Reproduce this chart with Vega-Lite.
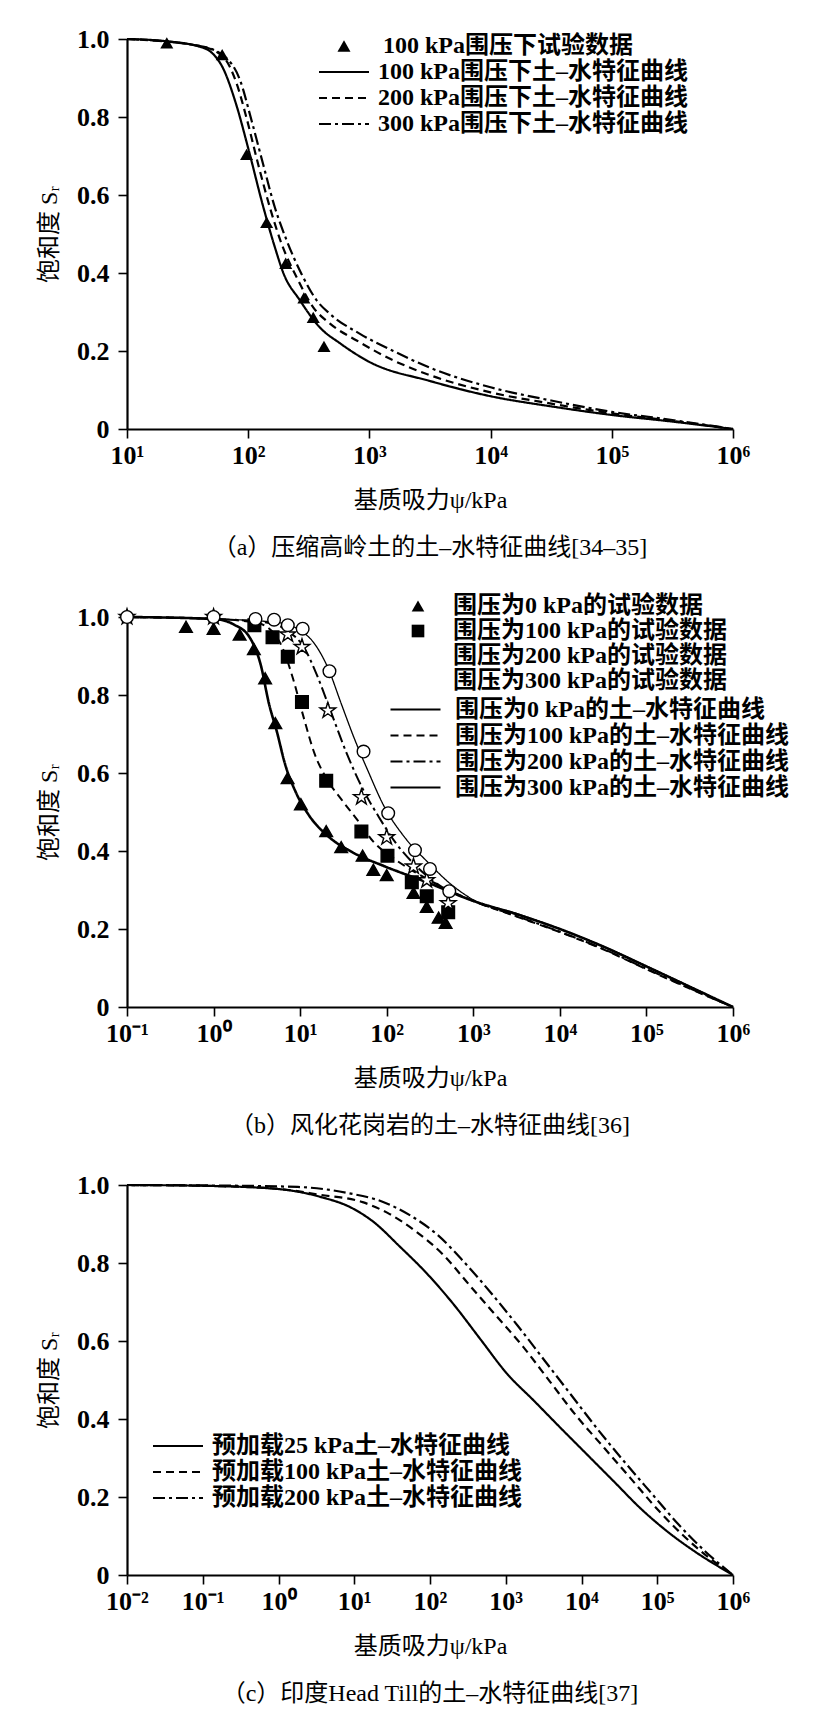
{
  "$schema": "https://vega.github.io/schema/vega-lite/v6.json",
  "background": "white",
  "padding": {"left": 37, "top": 26, "right": 5, "bottom": 5},
  "spacing": 34,
  "datasets": {
    "a_line": [
      {"s": "100 kPa围压下土–水特征曲线", "x": 10, "y": 1.0},
      {"s": "100 kPa围压下土–水特征曲线", "x": 20, "y": 0.995},
      {"s": "100 kPa围压下土–水特征曲线", "x": 40, "y": 0.98},
      {"s": "100 kPa围压下土–水特征曲线", "x": 50, "y": 0.965},
      {"s": "100 kPa围压下土–水特征曲线", "x": 62, "y": 0.925},
      {"s": "100 kPa围压下土–水特征曲线", "x": 80, "y": 0.83},
      {"s": "100 kPa围压下土–水特征曲线", "x": 100, "y": 0.72},
      {"s": "100 kPa围压下土–水特征曲线", "x": 133, "y": 0.57},
      {"s": "100 kPa围压下土–水特征曲线", "x": 166, "y": 0.466},
      {"s": "100 kPa围压下土–水特征曲线", "x": 195, "y": 0.4},
      {"s": "100 kPa围压下土–水特征曲线", "x": 267, "y": 0.33},
      {"s": "100 kPa围压下土–水特征曲线", "x": 391, "y": 0.26},
      {"s": "100 kPa围压下土–水特征曲线", "x": 571, "y": 0.22},
      {"s": "100 kPa围压下土–水特征曲线", "x": 1000, "y": 0.172},
      {"s": "100 kPa围压下土–水特征曲线", "x": 3162, "y": 0.123},
      {"s": "100 kPa围压下土–水特征曲线", "x": 10000, "y": 0.084},
      {"s": "100 kPa围压下土–水特征曲线", "x": 31623, "y": 0.058},
      {"s": "100 kPa围压下土–水特征曲线", "x": 100000, "y": 0.036},
      {"s": "100 kPa围压下土–水特征曲线", "x": 316228, "y": 0.019},
      {"s": "100 kPa围压下土–水特征曲线", "x": 1000000, "y": 0},
      {"s": "200 kPa围压下土–水特征曲线", "x": 10, "y": 1.0},
      {"s": "200 kPa围压下土–水特征曲线", "x": 40, "y": 0.982},
      {"s": "200 kPa围压下土–水特征曲线", "x": 62, "y": 0.955},
      {"s": "200 kPa围压下土–水特征曲线", "x": 80, "y": 0.887},
      {"s": "200 kPa围压下土–水特征曲线", "x": 97, "y": 0.797},
      {"s": "200 kPa围压下土–水特征曲线", "x": 121, "y": 0.678},
      {"s": "200 kPa围压下土–水特征曲线", "x": 151, "y": 0.568},
      {"s": "200 kPa围压下土–水特征曲线", "x": 189, "y": 0.474},
      {"s": "200 kPa围压下土–水特征曲线", "x": 251, "y": 0.389},
      {"s": "200 kPa围压下土–水特征曲线", "x": 344, "y": 0.312},
      {"s": "200 kPa围压下土–水特征曲线", "x": 473, "y": 0.27},
      {"s": "200 kPa围压下土–水特征曲线", "x": 785, "y": 0.227},
      {"s": "200 kPa围压下土–水特征曲线", "x": 1574, "y": 0.176},
      {"s": "200 kPa围压下土–水特征曲线", "x": 3162, "y": 0.138},
      {"s": "200 kPa围压下土–水特征曲线", "x": 10000, "y": 0.094},
      {"s": "200 kPa围压下土–水特征曲线", "x": 31623, "y": 0.065},
      {"s": "200 kPa围压下土–水特征曲线", "x": 100000, "y": 0.04},
      {"s": "200 kPa围压下土–水特征曲线", "x": 316228, "y": 0.021},
      {"s": "200 kPa围压下土–水特征曲线", "x": 1000000, "y": 0},
      {"s": "300 kPa围压下土–水特征曲线", "x": 10, "y": 1.0},
      {"s": "300 kPa围压下土–水特征曲线", "x": 40, "y": 0.982},
      {"s": "300 kPa围压下土–水特征曲线", "x": 64, "y": 0.955},
      {"s": "300 kPa围压下土–水特征曲线", "x": 85.5, "y": 0.895},
      {"s": "300 kPa围压下土–水特征曲线", "x": 107, "y": 0.789},
      {"s": "300 kPa围压下土–水特征曲线", "x": 133, "y": 0.678},
      {"s": "300 kPa围压下土–水特征曲线", "x": 166, "y": 0.568},
      {"s": "300 kPa围压下土–水特征曲线", "x": 208, "y": 0.483},
      {"s": "300 kPa围压下土–水特征曲线", "x": 276, "y": 0.397},
      {"s": "300 kPa围压下土–水特征曲线", "x": 367, "y": 0.33},
      {"s": "300 kPa围压下土–水特征曲线", "x": 473, "y": 0.295},
      {"s": "300 kPa围压下土–水特征曲线", "x": 836, "y": 0.244},
      {"s": "300 kPa围压下土–水特征曲线", "x": 1574, "y": 0.2},
      {"s": "300 kPa围压下土–水特征曲线", "x": 3162, "y": 0.157},
      {"s": "300 kPa围压下土–水特征曲线", "x": 10000, "y": 0.107},
      {"s": "300 kPa围压下土–水特征曲线", "x": 31623, "y": 0.073},
      {"s": "300 kPa围压下土–水特征曲线", "x": 100000, "y": 0.044},
      {"s": "300 kPa围压下土–水特征曲线", "x": 316228, "y": 0.023},
      {"s": "300 kPa围压下土–水特征曲线", "x": 1000000, "y": 0}
    ],
    "a_pt": [
      {"s": "100 kPa围压下试验数据", "x": 21.3, "y": 0.99},
      {"s": "100 kPa围压下试验数据", "x": 61, "y": 0.96},
      {"s": "100 kPa围压下试验数据", "x": 97, "y": 0.704},
      {"s": "100 kPa围压下试验数据", "x": 142, "y": 0.53},
      {"s": "100 kPa围压下试验数据", "x": 204, "y": 0.425},
      {"s": "100 kPa围压下试验数据", "x": 288, "y": 0.336},
      {"s": "100 kPa围压下试验数据", "x": 344, "y": 0.286},
      {"s": "100 kPa围压下试验数据", "x": 422, "y": 0.212}
    ],
    "b_line": [
      {"s": "围压为0 kPa的土–水特征曲线", "x": 0.1, "y": 1.0},
      {"s": "围压为0 kPa的土–水特征曲线", "x": 1.0, "y": 0.995},
      {"s": "围压为0 kPa的土–水特征曲线", "x": 1.74, "y": 0.98},
      {"s": "围压为0 kPa的土–水特征曲线", "x": 2.64, "y": 0.946},
      {"s": "围压为0 kPa的土–水特征曲线", "x": 3.5, "y": 0.878},
      {"s": "围压为0 kPa的土–水特征曲线", "x": 4.36, "y": 0.778},
      {"s": "围压为0 kPa的土–水特征曲线", "x": 5.4, "y": 0.705},
      {"s": "围压为0 kPa的土–水特征曲线", "x": 6.67, "y": 0.624},
      {"s": "围压为0 kPa的土–水特征曲线", "x": 8.9, "y": 0.551},
      {"s": "围压为0 kPa的土–水特征曲线", "x": 12.6, "y": 0.492},
      {"s": "围压为0 kPa的土–水特征曲线", "x": 21, "y": 0.438},
      {"s": "围压为0 kPa的土–水特征曲线", "x": 40, "y": 0.397},
      {"s": "围压为0 kPa的土–水特征曲线", "x": 94, "y": 0.361},
      {"s": "围压为0 kPa的土–水特征曲线", "x": 290, "y": 0.32},
      {"s": "围压为0 kPa的土–水特征曲线", "x": 1000, "y": 0.272},
      {"s": "围压为0 kPa的土–水特征曲线", "x": 3162, "y": 0.238},
      {"s": "围压为0 kPa的土–水特征曲线", "x": 10000, "y": 0.2},
      {"s": "围压为0 kPa的土–水特征曲线", "x": 31623, "y": 0.155},
      {"s": "围压为0 kPa的土–水特征曲线", "x": 100000, "y": 0.104},
      {"s": "围压为0 kPa的土–水特征曲线", "x": 316228, "y": 0.052},
      {"s": "围压为0 kPa的土–水特征曲线", "x": 1000000, "y": 0},
      {"s": "围压为100 kPa的土–水特征曲线", "x": 0.1, "y": 1.0},
      {"s": "围压为100 kPa的土–水特征曲线", "x": 1.0, "y": 0.995},
      {"s": "围压为100 kPa的土–水特征曲线", "x": 3.05, "y": 0.986},
      {"s": "围压为100 kPa的土–水特征曲线", "x": 4.7, "y": 0.964},
      {"s": "围压为100 kPa的土–水特征曲线", "x": 6.2, "y": 0.923},
      {"s": "围压为100 kPa的土–水特征曲线", "x": 8.3, "y": 0.841},
      {"s": "围压为100 kPa的土–水特征曲线", "x": 11, "y": 0.742},
      {"s": "围压为100 kPa的土–水特征曲线", "x": 14.6, "y": 0.651},
      {"s": "围压为100 kPa的土–水特征曲线", "x": 20, "y": 0.587},
      {"s": "围压为100 kPa的土–水特征曲线", "x": 29.8, "y": 0.533},
      {"s": "围压为100 kPa的土–水特征曲线", "x": 46, "y": 0.479},
      {"s": "围压为100 kPa的土–水特征曲线", "x": 70, "y": 0.424},
      {"s": "围压为100 kPa的土–水特征曲线", "x": 124, "y": 0.379},
      {"s": "围压为100 kPa的土–水特征曲线", "x": 290, "y": 0.329},
      {"s": "围压为100 kPa的土–水特征曲线", "x": 1000, "y": 0.272},
      {"s": "围压为100 kPa的土–水特征曲线", "x": 3162, "y": 0.232},
      {"s": "围压为100 kPa的土–水特征曲线", "x": 10000, "y": 0.192},
      {"s": "围压为100 kPa的土–水特征曲线", "x": 31623, "y": 0.148},
      {"s": "围压为100 kPa的土–水特征曲线", "x": 100000, "y": 0.097},
      {"s": "围压为100 kPa的土–水特征曲线", "x": 316228, "y": 0.047},
      {"s": "围压为100 kPa的土–水特征曲线", "x": 1000000, "y": 0},
      {"s": "围压为200 kPa的土–水特征曲线", "x": 0.1, "y": 1.0},
      {"s": "围压为200 kPa的土–水特征曲线", "x": 1.0, "y": 0.995},
      {"s": "围压为200 kPa的土–水特征曲线", "x": 4.05, "y": 0.986},
      {"s": "围压为200 kPa的土–水特征曲线", "x": 7.2, "y": 0.964},
      {"s": "围压为200 kPa的土–水特征曲线", "x": 11, "y": 0.923},
      {"s": "围压为200 kPa的土–水特征曲线", "x": 15.7, "y": 0.85},
      {"s": "围压为200 kPa的土–水特征曲线", "x": 22.4, "y": 0.76},
      {"s": "围压为200 kPa的土–水特征曲线", "x": 34.4, "y": 0.651},
      {"s": "围压为200 kPa的土–水特征曲线", "x": 52.7, "y": 0.56},
      {"s": "围压为200 kPa的土–水特征曲线", "x": 80.7, "y": 0.488},
      {"s": "围压为200 kPa的土–水特征曲线", "x": 124, "y": 0.424},
      {"s": "围压为200 kPa的土–水特征曲线", "x": 219, "y": 0.361},
      {"s": "围压为200 kPa的土–水特征曲线", "x": 386, "y": 0.315},
      {"s": "围压为200 kPa的土–水特征曲线", "x": 1000, "y": 0.272},
      {"s": "围压为200 kPa的土–水特征曲线", "x": 3162, "y": 0.233},
      {"s": "围压为200 kPa的土–水特征曲线", "x": 10000, "y": 0.193},
      {"s": "围压为200 kPa的土–水特征曲线", "x": 31623, "y": 0.149},
      {"s": "围压为200 kPa的土–水特征曲线", "x": 100000, "y": 0.098},
      {"s": "围压为200 kPa的土–水特征曲线", "x": 316228, "y": 0.048},
      {"s": "围压为200 kPa的土–水特征曲线", "x": 1000000, "y": 0},
      {"s": "围压为300 kPa的土–水特征曲线", "x": 0.1, "y": 1.0},
      {"s": "围压为300 kPa的土–水特征曲线", "x": 1.0, "y": 0.995},
      {"s": "围压为300 kPa的土–水特征曲线", "x": 5.4, "y": 0.986},
      {"s": "围压为300 kPa的土–水特征曲线", "x": 9.6, "y": 0.968},
      {"s": "围压为300 kPa的土–水特征曲线", "x": 14.6, "y": 0.932},
      {"s": "围压为300 kPa的土–水特征曲线", "x": 21, "y": 0.869},
      {"s": "围压为300 kPa的土–水特征曲线", "x": 29.8, "y": 0.778},
      {"s": "围压为300 kPa的土–水特征曲线", "x": 42.5, "y": 0.687},
      {"s": "围压为300 kPa的土–水特征曲线", "x": 60.6, "y": 0.606},
      {"s": "围压为300 kPa的土–水特征曲线", "x": 93, "y": 0.515},
      {"s": "围压为300 kPa的土–水特征曲线", "x": 164, "y": 0.433},
      {"s": "围压为300 kPa的土–水特征曲线", "x": 290, "y": 0.374},
      {"s": "围压为300 kPa的土–水特征曲线", "x": 550, "y": 0.315},
      {"s": "围压为300 kPa的土–水特征曲线", "x": 1000, "y": 0.275},
      {"s": "围压为300 kPa的土–水特征曲线", "x": 3162, "y": 0.24},
      {"s": "围压为300 kPa的土–水特征曲线", "x": 10000, "y": 0.2},
      {"s": "围压为300 kPa的土–水特征曲线", "x": 31623, "y": 0.156},
      {"s": "围压为300 kPa的土–水特征曲线", "x": 100000, "y": 0.105},
      {"s": "围压为300 kPa的土–水特征曲线", "x": 316228, "y": 0.053},
      {"s": "围压为300 kPa的土–水特征曲线", "x": 1000000, "y": 0}
    ],
    "b_pt": [
      {"s": "围压为0 kPa的试验数据", "x": 0.48, "y": 0.975},
      {"s": "围压为0 kPa的试验数据", "x": 1.0, "y": 0.97},
      {"s": "围压为0 kPa的试验数据", "x": 2.0, "y": 0.955},
      {"s": "围压为0 kPa的试验数据", "x": 2.92, "y": 0.918},
      {"s": "围压为0 kPa的试验数据", "x": 3.94, "y": 0.843},
      {"s": "围压为0 kPa的试验数据", "x": 5.17, "y": 0.728},
      {"s": "围压为0 kPa的试验数据", "x": 7.16, "y": 0.587},
      {"s": "围压为0 kPa的试验数据", "x": 10.2, "y": 0.52},
      {"s": "围压为0 kPa的试验数据", "x": 20, "y": 0.451},
      {"s": "围压为0 kPa的试验数据", "x": 29.8, "y": 0.41},
      {"s": "围压为0 kPa的试验数据", "x": 52.7, "y": 0.388},
      {"s": "围压为0 kPa的试验数据", "x": 70, "y": 0.352},
      {"s": "围压为0 kPa的试验数据", "x": 100, "y": 0.338},
      {"s": "围压为0 kPa的试验数据", "x": 204, "y": 0.293},
      {"s": "围压为0 kPa的试验数据", "x": 290, "y": 0.257},
      {"s": "围压为0 kPa的试验数据", "x": 398, "y": 0.229},
      {"s": "围压为0 kPa的试验数据", "x": 479, "y": 0.216},
      {"s": "围压为100 kPa的试验数据", "x": 2.96, "y": 0.979},
      {"s": "围压为100 kPa的试验数据", "x": 4.8, "y": 0.948},
      {"s": "围压为100 kPa的试验数据", "x": 7.2, "y": 0.898},
      {"s": "围压为100 kPa的试验数据", "x": 10.5, "y": 0.782},
      {"s": "围压为100 kPa的试验数据", "x": 20, "y": 0.58},
      {"s": "围压为100 kPa的试验数据", "x": 51, "y": 0.45},
      {"s": "围压为100 kPa的试验数据", "x": 102, "y": 0.388},
      {"s": "围压为100 kPa的试验数据", "x": 195, "y": 0.32},
      {"s": "围压为100 kPa的试验数据", "x": 290, "y": 0.284},
      {"s": "围压为100 kPa的试验数据", "x": 513, "y": 0.243},
      {"s": "围压为200 kPa的试验数据", "x": 0.1, "y": 1.0},
      {"s": "围压为200 kPa的试验数据", "x": 1.0, "y": 1.0},
      {"s": "围压为200 kPa的试验数据", "x": 7.2, "y": 0.955},
      {"s": "围压为200 kPa的试验数据", "x": 10.5, "y": 0.923},
      {"s": "围压为200 kPa的试验数据", "x": 20.9, "y": 0.76},
      {"s": "围压为200 kPa的试验数据", "x": 51, "y": 0.538},
      {"s": "围压为200 kPa的试验数据", "x": 100, "y": 0.435},
      {"s": "围压为200 kPa的试验数据", "x": 204, "y": 0.36},
      {"s": "围压为200 kPa的试验数据", "x": 290, "y": 0.325},
      {"s": "围压为200 kPa的试验数据", "x": 513, "y": 0.266},
      {"s": "围压为300 kPa的试验数据", "x": 0.1, "y": 1.0},
      {"s": "围压为300 kPa的试验数据", "x": 1.0, "y": 1.0},
      {"s": "围压为300 kPa的试验数据", "x": 3.05, "y": 0.995},
      {"s": "围压为300 kPa的试验数据", "x": 5.0, "y": 0.993},
      {"s": "围压为300 kPa的试验数据", "x": 7.2, "y": 0.979},
      {"s": "围压为300 kPa的试验数据", "x": 10.7, "y": 0.97},
      {"s": "围压为300 kPa的试验数据", "x": 21.8, "y": 0.861},
      {"s": "围压为300 kPa的试验数据", "x": 54, "y": 0.655},
      {"s": "围压为300 kPa的试验数据", "x": 104, "y": 0.497},
      {"s": "围压为300 kPa的试验数据", "x": 212, "y": 0.402},
      {"s": "围压为300 kPa的试验数据", "x": 316, "y": 0.354},
      {"s": "围压为300 kPa的试验数据", "x": 528, "y": 0.297}
    ],
    "c_line": [
      {"s": "预加载25 kPa土–水特征曲线", "x": 0.01, "y": 1.0},
      {"s": "预加载25 kPa土–水特征曲线", "x": 0.1, "y": 0.998},
      {"s": "预加载25 kPa土–水特征曲线", "x": 0.95, "y": 0.99},
      {"s": "预加载25 kPa土–水特征曲线", "x": 3.5, "y": 0.97},
      {"s": "预加载25 kPa土–水特征曲线", "x": 9.3, "y": 0.941},
      {"s": "预加载25 kPa土–水特征曲线", "x": 17.8, "y": 0.906},
      {"s": "预加载25 kPa土–水特征曲线", "x": 40, "y": 0.842},
      {"s": "预加载25 kPa土–水特征曲线", "x": 91, "y": 0.773},
      {"s": "预加载25 kPa土–水特征曲线", "x": 205, "y": 0.694},
      {"s": "预加载25 kPa土–水特征曲线", "x": 461, "y": 0.605},
      {"s": "预加载25 kPa土–水特征曲线", "x": 1042, "y": 0.516},
      {"s": "预加载25 kPa土–水特征曲线", "x": 2350, "y": 0.447},
      {"s": "预加载25 kPa土–水特征曲线", "x": 5300, "y": 0.377},
      {"s": "预加载25 kPa土–水特征曲线", "x": 11970, "y": 0.308},
      {"s": "预加载25 kPa土–水特征曲线", "x": 27000, "y": 0.239},
      {"s": "预加载25 kPa土–水特征曲线", "x": 60800, "y": 0.17},
      {"s": "预加载25 kPa土–水特征曲线", "x": 137000, "y": 0.111},
      {"s": "预加载25 kPa土–水特征曲线", "x": 309000, "y": 0.061},
      {"s": "预加载25 kPa土–水特征曲线", "x": 1000000, "y": 0},
      {"s": "预加载100 kPa土–水特征曲线", "x": 0.01, "y": 1.0},
      {"s": "预加载100 kPa土–水特征曲线", "x": 0.1, "y": 0.998},
      {"s": "预加载100 kPa土–水特征曲线", "x": 1.0, "y": 0.99},
      {"s": "预加载100 kPa土–水特征曲线", "x": 3.5, "y": 0.975},
      {"s": "预加载100 kPa土–水特征曲线", "x": 12.9, "y": 0.956},
      {"s": "预加载100 kPa土–水特征曲线", "x": 29, "y": 0.926},
      {"s": "预加载100 kPa土–水特征曲线", "x": 65, "y": 0.881},
      {"s": "预加载100 kPa土–水特征曲线", "x": 148, "y": 0.822},
      {"s": "预加载100 kPa土–水特征曲线", "x": 333, "y": 0.743},
      {"s": "预加载100 kPa土–水特征曲线", "x": 752, "y": 0.664},
      {"s": "预加载100 kPa土–水特征曲线", "x": 1700, "y": 0.585},
      {"s": "预加载100 kPa土–水特征曲线", "x": 3830, "y": 0.496},
      {"s": "预加载100 kPa土–水特征曲线", "x": 8630, "y": 0.407},
      {"s": "预加载100 kPa土–水特征曲线", "x": 19500, "y": 0.328},
      {"s": "预加载100 kPa土–水特征曲线", "x": 44000, "y": 0.249},
      {"s": "预加载100 kPa土–水特征曲线", "x": 99000, "y": 0.17},
      {"s": "预加载100 kPa土–水特征曲线", "x": 224000, "y": 0.1},
      {"s": "预加载100 kPa土–水特征曲线", "x": 500000, "y": 0.042},
      {"s": "预加载100 kPa土–水特征曲线", "x": 1000000, "y": 0},
      {"s": "预加载200 kPa土–水特征曲线", "x": 0.01, "y": 1.0},
      {"s": "预加载200 kPa土–水特征曲线", "x": 0.1, "y": 0.999},
      {"s": "预加载200 kPa土–水特征曲线", "x": 1.8, "y": 0.995},
      {"s": "预加载200 kPa土–水特征曲线", "x": 7.9, "y": 0.98},
      {"s": "预加载200 kPa土–水特征曲线", "x": 24.5, "y": 0.956},
      {"s": "预加载200 kPa土–水特征曲线", "x": 56, "y": 0.921},
      {"s": "预加载200 kPa土–水特征曲线", "x": 126, "y": 0.872},
      {"s": "预加载200 kPa土–水特征曲线", "x": 283, "y": 0.802},
      {"s": "预加载200 kPa土–水特征曲线", "x": 640, "y": 0.723},
      {"s": "预加载200 kPa土–水特征曲线", "x": 1440, "y": 0.639},
      {"s": "预加载200 kPa土–水特征曲线", "x": 3250, "y": 0.55},
      {"s": "预加载200 kPa土–水特征曲线", "x": 7350, "y": 0.461},
      {"s": "预加载200 kPa土–水特征曲线", "x": 16600, "y": 0.372},
      {"s": "预加载200 kPa土–水特征曲线", "x": 37300, "y": 0.289},
      {"s": "预加载200 kPa土–水特征曲线", "x": 84300, "y": 0.209},
      {"s": "预加载200 kPa土–水特征曲线", "x": 190000, "y": 0.13},
      {"s": "预加载200 kPa土–水特征曲线", "x": 427000, "y": 0.061},
      {"s": "预加载200 kPa土–水特征曲线", "x": 1000000, "y": 0}
    ]
  },
  "vconcat": [
    {
      "width": 606,
      "height": 390,
      "title": {"text": "（a）压缩高岭土的土–水特征曲线[34–35]", "orient": "bottom", "anchor": "middle", "frame": "group", "offset": 24},
      "encoding": {
        "x": {"field": "x", "type": "quantitative", "scale": {"type": "log", "domain": [10, 1000000], "nice": false},
          "axis": {"values": [10, 100, 1000, 10000, 100000, 1000000], "title": "基质吸力ψ/kPa",
            "labelExpr": "datum.value < 50 ? '10¹' : datum.value < 500 ? '10²' : datum.value < 5000 ? '10³' : datum.value < 50000 ? '10⁴' : datum.value < 500000 ? '10⁵' : '10⁶'"}},
        "y": {"field": "y", "type": "quantitative", "scale": {"domain": [0, 1], "nice": false},
          "axis": {"values": [0, 0.2, 0.4, 0.6, 0.8, 1.0], "title": "饱和度 Sᵣ", "labelExpr": "datum.value == 0 ? '0' : format(datum.value, '.1f')"}}
      },
      "layer": [
        {
          "data": {"name": "a_line"},
          "mark": {"type": "line", "color": "black", "strokeWidth": 2.2, "interpolate": "monotone"},
          "encoding": {
            "strokeDash": {"field": "s", "type": "nominal",
              "scale": {"domain": ["100 kPa围压下土–水特征曲线", "200 kPa围压下土–水特征曲线", "300 kPa围压下土–水特征曲线"], "range": [[1, 0], [8, 5], [12, 4, 3, 4]]},
              "legend": {"title": null, "orient": "none", "legendX": 203, "legendY": 19, "labelOffset": 20, "rowPadding": 0, "symbolSize": 625, "symbolType": "M-2,0H2", "symbolStrokeWidth": 2.2}}
          }
        },
        {
          "data": {"name": "a_pt"},
          "mark": {"type": "point", "filled": true, "color": "black", "opacity": 1, "size": 170},
          "encoding": {
            "shape": {"field": "s", "type": "nominal",
              "scale": {"domain": ["100 kPa围压下试验数据"], "range": ["triangle-up"]},
              "legend": {"title": null, "orient": "none", "legendX": 205, "legendY": -5, "labelOffset": 27, "symbolType": "triangle-up", "symbolSize": 170, "symbolFillColor": "black"}}
          }
        }
      ]
    },
    {
      "width": 606,
      "height": 390,
      "title": {"text": "（b）风化花岗岩的土–水特征曲线[36]", "orient": "bottom", "anchor": "middle", "frame": "group", "offset": 24},
      "encoding": {
        "x": {"field": "x", "type": "quantitative", "scale": {"type": "log", "domain": [0.1, 1000000], "nice": false},
          "axis": {"values": [0.1, 1, 10, 100, 1000, 10000, 100000, 1000000], "title": "基质吸力ψ/kPa",
            "labelExpr": "datum.value < 0.5 ? '10⁻¹' : datum.value < 5 ? '10⁰' : datum.value < 50 ? '10¹' : datum.value < 500 ? '10²' : datum.value < 5000 ? '10³' : datum.value < 50000 ? '10⁴' : datum.value < 500000 ? '10⁵' : '10⁶'"}},
        "y": {"field": "y", "type": "quantitative", "scale": {"domain": [0, 1], "nice": false},
          "axis": {"values": [0, 0.2, 0.4, 0.6, 0.8, 1.0], "title": "饱和度 Sᵣ", "labelExpr": "datum.value == 0 ? '0' : format(datum.value, '.1f')"}}
      },
      "layer": [
        {
          "data": {"name": "b_line"},
          "mark": {"type": "line", "color": "black", "interpolate": "monotone"},
          "encoding": {
            "strokeDash": {"field": "s", "type": "nominal",
              "scale": {"domain": ["围压为0 kPa的土–水特征曲线", "围压为100 kPa的土–水特征曲线", "围压为200 kPa的土–水特征曲线", "围压为300 kPa的土–水特征曲线"], "range": [[1, 0], [8, 5], [12, 4, 3, 4], [1, 0]]},
              "legend": {"title": null, "orient": "none", "legendX": 275, "legendY": 79, "labelOffset": 26, "rowPadding": 0, "symbolSize": 625, "symbolType": "M-2,0H2", "symbolStrokeWidth": 2.0}},
            "strokeWidth": {"condition": [{"test": "datum.s == '围压为0 kPa的土–水特征曲线'", "value": 2.6}, {"test": "datum.s == '围压为300 kPa的土–水特征曲线'", "value": 1.3}], "value": 2.0}
          }
        },
        {
          "data": {"name": "b_pt"},
          "mark": {"type": "point", "filled": false, "color": "black", "stroke": "black", "strokeWidth": 1.4, "opacity": 1, "size": 160},
          "encoding": {
            "shape": {"field": "s", "type": "nominal",
              "scale": {"domain": ["围压为0 kPa的试验数据", "围压为100 kPa的试验数据", "围压为200 kPa的试验数据", "围压为300 kPa的试验数据"],
                "range": ["triangle-up", "square", "M0,-1.3L0.2919,-0.4017L1.2364,-0.4017L0.4723,0.1534L0.7641,1.0517L0,0.4966L-0.7641,1.0517L-0.4723,0.1534L-1.2364,-0.4017L-0.2919,-0.4017Z", "circle"]},
              "legend": {"title": null, "orient": "none", "legendX": 279, "legendY": -23, "labelOffset": 23, "rowPadding": 1, "symbolSize": 160, "symbolStrokeColor": "black", "symbolStrokeWidth": 1.4}},
            "fill": {"field": "s", "type": "nominal",
              "scale": {"domain": ["围压为0 kPa的试验数据", "围压为100 kPa的试验数据", "围压为200 kPa的试验数据", "围压为300 kPa的试验数据"], "range": ["black", "black", "white", "white"]},
              "legend": {"title": null, "orient": "none", "legendX": 279, "legendY": -23, "labelOffset": 23, "rowPadding": 1, "symbolSize": 160, "symbolStrokeColor": "black", "symbolStrokeWidth": 1.4}}
          }
        }
      ]
    },
    {
      "width": 606,
      "height": 390,
      "title": {"text": "（c）印度Head Till的土–水特征曲线[37]", "orient": "bottom", "anchor": "middle", "frame": "group", "offset": 24},
      "data": {"name": "c_line"},
      "mark": {"type": "line", "color": "black", "strokeWidth": 2.2, "interpolate": "monotone"},
      "encoding": {
        "x": {"field": "x", "type": "quantitative", "scale": {"type": "log", "domain": [0.01, 1000000], "nice": false},
          "axis": {"values": [0.01, 0.1, 1, 10, 100, 1000, 10000, 100000, 1000000], "title": "基质吸力ψ/kPa",
            "labelExpr": "datum.value < 0.05 ? '10⁻²' : datum.value < 0.5 ? '10⁻¹' : datum.value < 5 ? '10⁰' : datum.value < 50 ? '10¹' : datum.value < 500 ? '10²' : datum.value < 5000 ? '10³' : datum.value < 50000 ? '10⁴' : datum.value < 500000 ? '10⁵' : '10⁶'"}},
        "y": {"field": "y", "type": "quantitative", "scale": {"domain": [0, 1], "nice": false},
          "axis": {"values": [0, 0.2, 0.4, 0.6, 0.8, 1.0], "title": "饱和度 Sᵣ", "labelExpr": "datum.value == 0 ? '0' : format(datum.value, '.1f')"}},
        "strokeDash": {"field": "s", "type": "nominal",
          "scale": {"domain": ["预加载25 kPa土–水特征曲线", "预加载100 kPa土–水特征曲线", "预加载200 kPa土–水特征曲线"], "range": [[1, 0], [8, 5], [12, 4, 3, 4]]},
          "legend": {"title": null, "orient": "none", "legendX": 37, "legendY": 247, "labelOffset": 20, "rowPadding": 0, "symbolSize": 625, "symbolType": "M-2,0H2", "symbolStrokeWidth": 2.2}}
      }
    }
  ],
  "resolve": {
    "scale": {"x": "independent", "y": "independent", "shape": "independent", "fill": "independent", "strokeDash": "independent"},
    "legend": {"shape": "independent", "fill": "independent", "strokeDash": "independent"}
  },
  "config": {
    "font": "Liberation Serif, Noto Sans CJK SC",
    "view": {"stroke": null},
    "axis": {
      "grid": false,
      "domainColor": "black", "domainWidth": 2.2,
      "tickColor": "black", "tickWidth": 1.6, "tickSize": 9,
      "labelColor": "black", "labelFontSize": 26, "labelFontWeight": "bold",
      "titleColor": "black", "titleFontSize": 24, "titleFontWeight": "normal"
    },
    "axisX": {"labelPadding": 4, "titlePadding": 20, "labelFlush": false},
    "axisY": {"labelPadding": 9, "titlePadding": 15},
    "legend": {
      "padding": 0, "rowPadding": 1,
      "labelFontSize": 24, "labelFontWeight": "bold", "labelColor": "black", "labelLimit": 600,
      "symbolStrokeColor": "black", "symbolStrokeWidth": 1.4
    },
    "title": {"fontSize": 24, "fontWeight": "normal", "color": "black"}
  }
}
